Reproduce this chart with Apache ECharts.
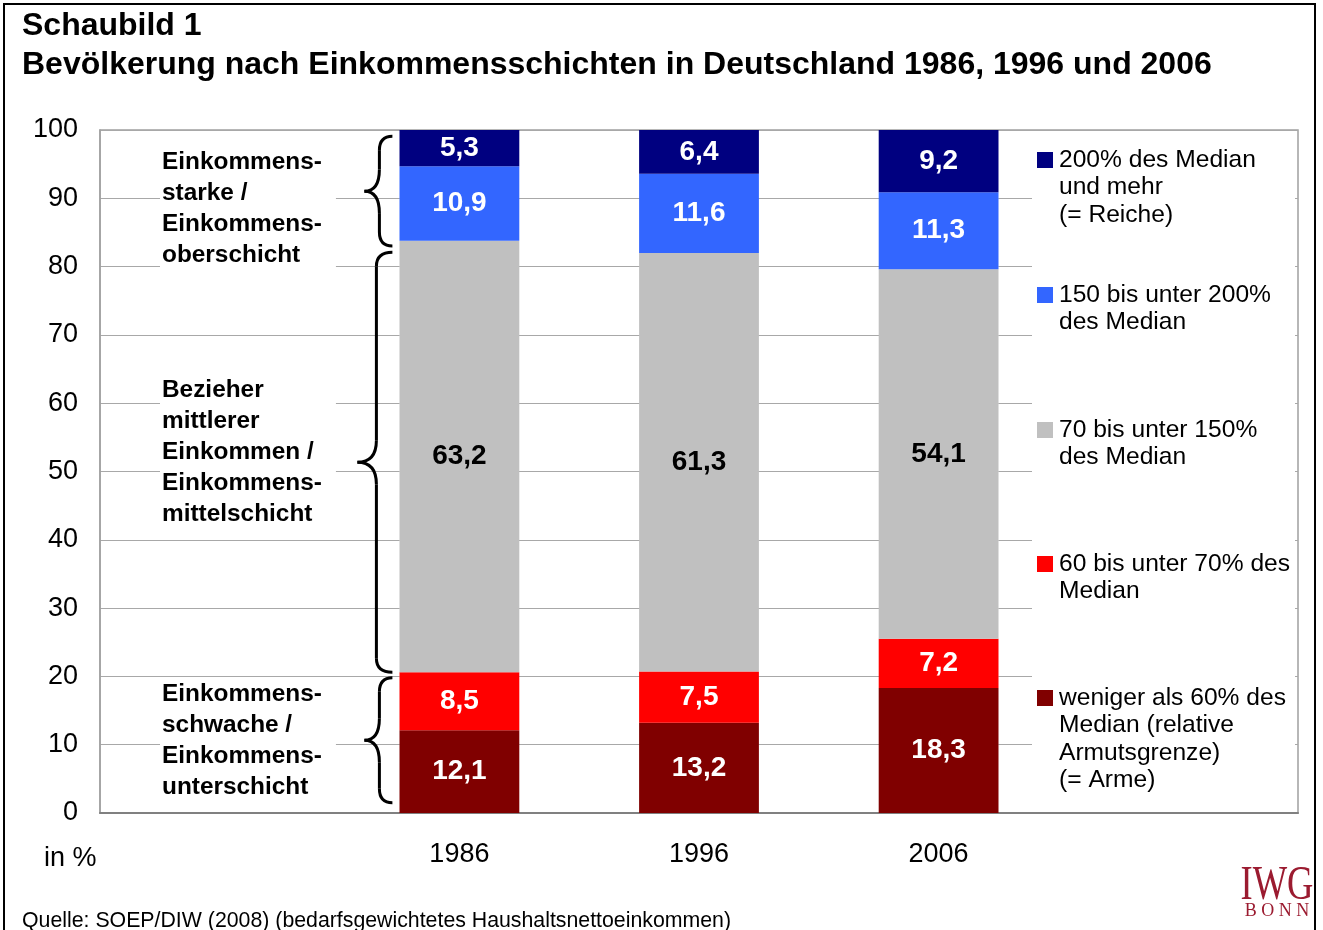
<!DOCTYPE html>
<html>
<head>
<meta charset="utf-8">
<script src="https://cdn.jsdelivr.net/npm/echarts@6/dist/echarts.min.js"></script>
<style>
  html, body { margin: 0; padding: 0; background: #fff; }
  #frame { position: absolute; left: 3px; top: 3px; width: 1313px; height: 940px; border: 2px solid #000; box-sizing: border-box; }
  #main { position: absolute; left: 0; top: 0; width: 1323px; height: 930px; }
</style>
</head>
<body>
<div id="frame"></div>
<div id="main"></div>
<script>
// Kategorien (erste und letzte Spalte bleiben leer fuer Texte / Legende)
var years = ['', '1986', '1996', '2006', ''];
// Werte in % je Schicht, von unten nach oben
var arme      = [null, 12.1, 13.2, 18.3, null];
var unter70   = [null, 8.5, 7.5, 7.2, null];
var mitte     = [null, 63.2, 61.3, 54.1, null];
var unter200  = [null, 10.9, 11.6, 11.3, null];
var reiche    = [null, 5.3, 6.4, 9.2, null];
var seriesNames = [
  'weniger als 60% des\nMedian (relative\nArmutsgrenze)\n(= Arme)',
  '60 bis unter 70% des\nMedian',
  '70 bis unter 150%\ndes Median',
  '150 bis unter 200%\ndes Median',
  '200% des Median\nund mehr\n(= Reiche)'
];
var colors = ['#800000', '#ff0000', '#c0c0c0', '#3366ff', '#000080'];
var labelColors = ['#fff', '#fff', '#000', '#fff', '#fff'];
// Gruppentexte links mit Klammerbereich (von/bis in %)
var groupTexts = [
  'Einkommens-\nstarke /\nEinkommens-\noberschicht',
  'Bezieher\nmittlerer\nEinkommen /\nEinkommens-\nmittelschicht',
  'Einkommens-\nschwache /\nEinkommens-\nunterschicht'
];
var braceRanges = [[99.1, 83.0], [82.1, 20.6], [19.8, 1.5]];

var font = '"Liberation Sans", Arial, sans-serif';
var allData = [arme, unter70, mitte, unter200, reiche];

var series = [];
for (var i = 0; i < allData.length; i++) {
  series.push({
    name: seriesNames[i],
    type: 'bar',
    stack: 'total',
    barWidth: '50%',
    data: allData[i],
    itemStyle: { color: colors[i] },
    label: {
      show: true,
      position: 'inside',
      color: labelColors[i],
      fontFamily: font,
      fontWeight: 'bold',
      fontSize: 28,
      formatter: function (p) { return String(p.value).replace('.', ','); }
    }
  });
}

var myChart = echarts.init(document.getElementById('main'));
myChart.setOption({
  backgroundColor: 'transparent',
  animation: false,
  grid: { left: 100, right: 25, top: 130, bottom: 117, show: true, borderColor: '#a0a0a0', borderWidth: 1.5 },
  xAxis: {
    type: 'category',
    data: years,
    axisTick: { show: false },
    axisLine: { lineStyle: { color: '#808080', width: 2 } },
    axisLabel: { color: '#000', fontFamily: font, fontSize: 27, margin: 28 }
  },
  yAxis: {
    type: 'value',
    min: 0,
    max: 100,
    interval: 10,
    axisLine: { show: true, lineStyle: { color: '#a0a0a0', width: 1.5 } },
    axisTick: { show: false },
    axisLabel: { color: '#000', fontFamily: font, fontSize: 27, margin: 22, padding: [4, 0, 0, 0] },
    splitLine: { lineStyle: { color: '#a8a8a8', width: 1 } }
  },
  series: series
});

// geschweifte Klammer aus Kurvenstuecken
function brace(x0, xe, xt, y1, y2) {
  var ym = (y1 + y2) / 2, r = 14, rt = 22;
  var st = { stroke: '#000', lineWidth: 3, fill: null };
  return [
    { type: 'bezierCurve', shape: { x1: xe, y1: y1, cpx1: x0, cpy1: y1, x2: x0, y2: y1 + r }, style: st },
    { type: 'line', shape: { x1: x0, y1: y1 + r, x2: x0, y2: ym - rt }, style: st },
    { type: 'bezierCurve', shape: { x1: x0, y1: ym - rt, cpx1: x0, cpy1: ym, x2: xt, y2: ym }, style: st },
    { type: 'bezierCurve', shape: { x1: xt, y1: ym, cpx1: x0, cpy1: ym, x2: x0, y2: ym + rt }, style: st },
    { type: 'line', shape: { x1: x0, y1: ym + rt, x2: x0, y2: y2 - r }, style: st },
    { type: 'bezierCurve', shape: { x1: x0, y1: y2 - r, cpx1: x0, cpy1: y2, x2: xe, y2: y2 }, style: st }
  ];
}

var graphics = [];
var barLeft = myChart.convertToPixel({ xAxisIndex: 0 }, '1986') - 60;
var braceX = [[barLeft - 20, barLeft - 35], [barLeft - 23, barLeft - 42], [barLeft - 20, barLeft - 35]];
var textTops = [147, 375, 679];
for (var g = 0; g < groupTexts.length; g++) {
  var ya = myChart.convertToPixel({ yAxisIndex: 0 }, braceRanges[g][0]);
  var yb = myChart.convertToPixel({ yAxisIndex: 0 }, braceRanges[g][1]);
  graphics = graphics.concat(brace(braceX[g][0], barLeft - 7, braceX[g][1], ya, yb));
  graphics.push({
    type: 'text',
    x: 160,
    y: textTops[g],
    style: {
      text: groupTexts[g],
      font: 'bold 24.4px ' + font,
      lineHeight: 31,
      fill: '#000',
      backgroundColor: '#fff',
      padding: [0, 14, 0, 2]
    }
  });
}

// Legende (weisser Kasten verdeckt Gitterlinien)
graphics.push({
  type: 'rect',
  shape: { x: 1032, y: 132, width: 263, height: 679 },
  style: { fill: '#fff' }
});
var legendTops = [160, 295, 430, 564, 698];
for (var k = 0; k < 5; k++) {
  var idx = 4 - k;
  graphics.push({
    type: 'rect',
    shape: { x: 1037, y: legendTops[k] - 8, width: 16, height: 16 },
    style: { fill: colors[idx] }
  });
  graphics.push({
    type: 'text',
    x: 1059,
    y: legendTops[k] - 13.75,
    style: { text: seriesNames[idx], font: '24.6px ' + font, lineHeight: 27.5, fill: '#000' }
  });
}

// Titel, Einheit, Quelle, Logo
graphics.push({ type: 'text', x: 22, y: 7, style: { text: 'Schaubild 1\nBevölkerung nach Einkommensschichten in Deutschland 1986, 1996 und 2006', font: 'bold 32px ' + font, lineHeight: 39, fill: '#000' } });
graphics.push({ type: 'text', x: 44, y: 845, style: { text: 'in %', font: '27px ' + font, fill: '#000' } });
graphics.push({ type: 'text', x: 22, y: 911, style: { text: 'Quelle: SOEP/DIW (2008) (bedarfsgewichtetes Haushaltsnettoeinkommen)', font: '21.3px ' + font, fill: '#000' } });
graphics.push({ type: 'text', x: 1277, y: 862, scaleX: 0.76, style: { text: 'IWG', font: '48px "Liberation Serif", serif', fill: '#9b1b30', align: 'center' } });
graphics.push({ type: 'text', x: 1277, y: 902, style: { text: 'B O N N', font: '18px "Liberation Serif", serif', fill: '#9b1b30', align: 'center' } });

myChart.setOption({ graphic: graphics });
</script>
</body>
</html>
